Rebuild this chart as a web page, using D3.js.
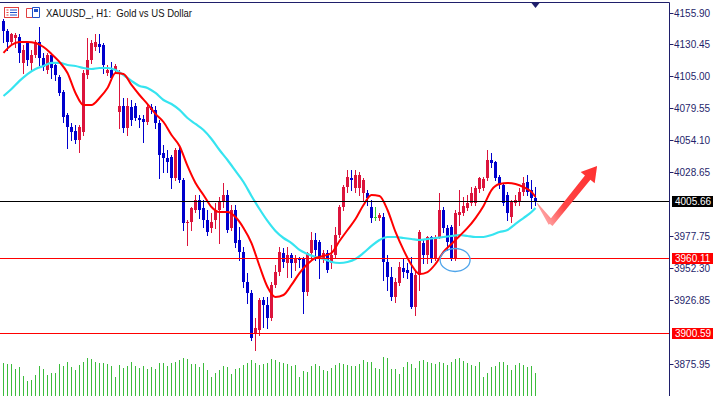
<!DOCTYPE html>
<html>
<head>
<meta charset="utf-8">
<script src="https://cdn.jsdelivr.net/npm/d3@7"></script>
<style>
html, body { margin: 0; padding: 0; background: #fff; overflow: hidden; }
svg { display: block; }
text { font-family: "Liberation Sans", Arial, sans-serif; }
</style>
</head>
<body>
<svg id="chart" width="722" height="396"></svg>
<script>
// XAUUSD H1 candles (one entry per hour)
var open = [4149.1, 4141.2, 4132.4, 4135.6, 4136.4, 4115.7, 4131.6, 4115.7, 4122.1, 4132.4,
    4119.7, 4110.1, 4122.1, 4114.1, 4104.5, 4092.6, 4074.3, 4064.7, 4061.5, 4054.4,
    4060.7, 4106.1, 4118.1, 4128.4, 4130.8, 4130.0, 4107.7, 4110.1, 4110.1, 4076.7,
    4081.4, 4063.9, 4080.6, 4081.4, 4071.9, 4071.1, 4068.7, 4080.6, 4078.3, 4067.9,
    4044.0, 4040.0, 4040.8, 4024.1, 4046.4, 4022.5, 3988.3, 3989.1, 3998.6, 4006.6,
    4000.2, 3990.7, 3984.3, 3990.7, 3998.6, 4005.0, 4010.6, 3984.3, 3998.6, 3974.7,
    3965.2, 3941.3, 3932.5, 3900.7, 3903.0, 3926.9, 3923.0, 3912.6, 3938.9, 3949.2,
    3964.4, 3956.4, 3962.8, 3956.4, 3960.4, 3960.4, 3933.3, 3964.4, 3974.7, 3973.1,
    3960.4, 3964.4, 3956.4, 3962.8, 3978.7, 4001.0, 4016.9, 4024.1, 4016.1, 4016.1,
    4012.2, 4012.2, 4001.0, 3993.0, 3992.2, 3993.0, 3957.2, 3945.3, 3929.3, 3940.5,
    3952.4, 3950.8, 3948.4, 3921.4, 3946.9, 3972.3, 3962.8, 3977.1, 3960.4, 3977.1,
    3998.6, 3984.3, 3985.1, 3960.4, 3994.6, 3996.2, 4000.2, 4004.2, 4004.2, 4015.3,
    4016.1, 4024.1, 4038.4, 4036.8, 4024.9, 4018.5, 4010.6, 3993.0, 4004.2, 4005.0,
    4013.0, 4020.9, 4014.5, 4008.2];
var high = [4150.7, 4142.8, 4139.6, 4139.6, 4138.8, 4130.0, 4132.4, 4126.0, 4134.0, 4144.4,
    4123.7, 4123.7, 4123.7, 4116.5, 4106.1, 4094.2, 4075.9, 4067.9, 4066.3, 4066.3,
    4110.1, 4135.6, 4134.0, 4138.8, 4138.8, 4131.6, 4114.1, 4116.5, 4114.9, 4110.1,
    4087.8, 4087.8, 4086.2, 4083.8, 4074.3, 4074.3, 4083.8, 4083.0, 4081.4, 4070.3,
    4050.4, 4046.4, 4042.4, 4048.0, 4048.8, 4024.1, 3990.7, 4001.0, 4010.6, 4010.6,
    4006.6, 3998.6, 3996.2, 4004.2, 4009.0, 4020.1, 4014.5, 4002.6, 4002.6, 3985.1,
    3969.1, 3948.4, 3934.9, 3912.6, 3928.5, 3929.3, 3929.3, 3941.3, 3954.8, 3969.1,
    3968.4, 3969.1, 3964.4, 3962.8, 3961.2, 3961.2, 3965.2, 3981.1, 3980.3, 3974.7,
    3966.8, 3966.8, 3970.7, 3985.1, 4002.6, 4018.5, 4030.5, 4030.5, 4030.5, 4028.9,
    4024.1, 4014.5, 4006.6, 4001.0, 3996.2, 3996.2, 3962.8, 3953.2, 3944.5, 3957.2,
    3960.4, 3956.4, 3961.2, 3950.8, 3982.7, 3974.7, 3978.0, 3977.9, 3978.7, 4012.2,
    4001.0, 3986.7, 3986.7, 3998.6, 4014.5, 4009.0, 4010.6, 4016.9, 4017.7, 4024.9,
    4024.9, 4046.4, 4044.0, 4037.5, 4026.5, 4020.1, 4013.0, 4006.6, 4010.6, 4016.1,
    4024.9, 4026.5, 4022.5, 4016.9];
var low = [4132.4, 4126.0, 4130.8, 4128.4, 4116.5, 4107.7, 4114.1, 4110.1, 4120.5, 4114.1,
    4110.1, 4107.7, 4103.7, 4102.2, 4090.2, 4068.7, 4048.0, 4054.4, 4052.0, 4044.8,
    4058.3, 4103.7, 4115.7, 4126.0, 4124.5, 4107.7, 4106.1, 4102.2, 4107.7, 4063.9,
    4060.7, 4058.3, 4066.3, 4070.3, 4064.7, 4052.8, 4067.1, 4075.9, 4063.9, 4024.1,
    4028.9, 4028.9, 4016.1, 4022.5, 4020.9, 3982.7, 3970.7, 3982.7, 3997.0, 3992.2,
    3985.1, 3978.7, 3981.1, 3984.3, 3972.3, 4001.0, 3981.1, 3982.7, 3969.1, 3958.8,
    3937.3, 3924.5, 3895.1, 3887.1, 3899.1, 3905.4, 3904.6, 3911.0, 3937.3, 3946.9,
    3953.2, 3945.3, 3945.3, 3950.8, 3953.2, 3916.6, 3930.9, 3958.8, 3958.8, 3944.5,
    3957.2, 3949.2, 3952.4, 3961.2, 3977.1, 3998.6, 4013.0, 4014.5, 4013.0, 4010.6,
    4006.6, 4002.6, 3989.1, 3990.7, 3990.7, 3942.9, 3934.9, 3926.9, 3925.3, 3938.9,
    3945.3, 3944.5, 3920.6, 3915.0, 3934.9, 3956.4, 3956.4, 3957.2, 3958.8, 3976.3,
    3981.1, 3966.8, 3958.8, 3958.8, 3986.7, 3994.6, 3998.6, 4002.6, 4002.6, 4013.0,
    4014.5, 4022.5, 4032.9, 4022.5, 4016.1, 4002.6, 3990.7, 3989.1, 4002.6, 4002.6,
    4010.6, 4010.6, 4000.2, 4002.6];
var close = [4141.2, 4132.4, 4138.8, 4138.0, 4123.7, 4126.0, 4118.1, 4122.1, 4132.4, 4119.7,
    4112.5, 4122.1, 4111.7, 4106.1, 4091.8, 4072.7, 4064.7, 4060.7, 4054.4, 4064.7,
    4107.7, 4118.1, 4131.6, 4132.4, 4128.4, 4114.1, 4110.1, 4103.7, 4113.3, 4081.4,
    4063.9, 4081.4, 4070.3, 4071.9, 4070.3, 4068.7, 4080.6, 4078.3, 4067.9, 4042.4,
    4040.0, 4036.8, 4024.1, 4046.4, 4022.5, 3988.3, 3989.1, 4000.2, 4006.6, 3998.6,
    3990.7, 3981.1, 3989.1, 3998.6, 4005.0, 4010.6, 3982.7, 3998.6, 3972.3, 3965.2,
    3941.3, 3932.5, 3896.7, 3904.6, 3926.9, 3923.0, 3912.6, 3938.9, 3949.2, 3965.2,
    3957.2, 3962.8, 3956.4, 3960.4, 3958.8, 3933.3, 3964.4, 3974.7, 3966.8, 3960.4,
    3964.4, 3950.8, 3962.8, 3978.7, 4001.0, 4016.9, 4024.9, 4022.5, 4026.5, 4026.5,
    4022.5, 4008.2, 3992.2, 3993.0, 3994.6, 3957.2, 3945.3, 3929.3, 3941.3, 3953.2,
    3949.2, 3948.4, 3921.4, 3946.9, 3981.1, 3962.8, 3977.1, 3960.4, 3977.1, 3998.6,
    3984.3, 3973.1, 3960.4, 3996.2, 3997.0, 4001.8, 4004.2, 4012.2, 4016.1, 4024.1,
    4023.3, 4038.4, 4036.0, 4024.1, 4018.5, 4004.2, 3996.2, 4005.0, 4006.6, 4013.0,
    4020.1, 4013.0, 4008.2, 4005.7];
// tick volumes (same bars)
var volume = [4950, 4800, 4800, 4050, 4350, 3000, 2250, 2400, 3150, 4500,
    4050, 3150, 3450, 3450, 4800, 4500, 5100, 4350, 3900, 4650,
    5100, 5700, 5550, 5100, 4950, 4950, 4800, 4500, 2850, 4650,
    4200, 4500, 5100, 4500, 4200, 4500, 4050, 4350, 4050, 4950,
    4950, 4500, 4950, 5100, 5400, 5700, 5550, 4800, 4800, 4350,
    4950, 3900, 2850, 3450, 3900, 4500, 4350, 3300, 4050, 4200,
    4650, 4950, 5400, 4950, 4650, 4800, 4950, 5550, 5400, 5100,
    4950, 4800, 4500, 4650, 2850, 3750, 3600, 4500, 4800, 4500,
    3900, 3750, 4200, 4650, 4950, 4800, 4650, 4500, 4500, 4800,
    5400, 5100, 5100, 4200, 4050, 5850, 5700, 4050, 4050, 3300,
    4350, 5100, 4800, 4200, 5250, 5400, 5100, 4950, 4800, 5100,
    4950, 4650, 5100, 5550, 5700, 5250, 4950, 4650, 4500, 5100,
    2850, 3450, 4350, 4500, 5100, 5100, 4650, 3900, 4650, 4950,
    4650, 4350, 4500, 3450];

// moving averages, read every second bar (last one at the final bar)
var maBar = [0, 2, 4, 6, 8, 10, 12, 14, 16, 18, 20, 22, 24, 26, 28, 30, 32, 34, 36, 38,
    40, 42, 44, 46, 48, 50, 52, 54, 56, 58, 60, 62, 64, 66, 68, 70, 72, 74, 76, 78,
    80, 82, 84, 86, 88, 90, 92, 94, 96, 98, 100, 102, 104, 106, 108, 110, 112, 114, 116, 118,
    120, 122, 124, 126, 128, 130, 132, 133];
var maFast = [4123.7, 4130.0, 4132.4, 4132.4, 4131.6, 4128.4, 4122.9, 4116.5, 4107.7, 4091.8,
    4082.2, 4082.2, 4087.8, 4095.8, 4107.7, 4106.9, 4098.2, 4090.2, 4083.0, 4075.1,
    4068.7, 4058.3, 4049.6, 4033.7, 4020.1, 4010.6, 4001.0, 3997.0, 3997.0, 3993.0,
    3984.3, 3972.3, 3954.0, 3937.3, 3929.3, 3930.9, 3938.9, 3948.4, 3955.6, 3960.4,
    3962.0, 3964.4, 3973.9, 3982.7, 3991.4, 4002.6, 4010.6, 4009.8, 3998.6, 3981.1,
    3966.8, 3954.8, 3947.6, 3949.2, 3955.6, 3965.2, 3971.5, 3977.9, 3984.3, 3992.2,
    4001.8, 4014.5, 4019.3, 4020.1, 4019.3, 4016.9, 4013.0, 4009.0];
var maSlow = [4089.4, 4095.0, 4101.4, 4106.9, 4110.9, 4113.3, 4115.7, 4115.7, 4114.1, 4113.3,
    4111.7, 4110.9, 4111.7, 4111.7, 4110.1, 4106.1, 4101.4, 4097.4, 4095.8, 4091.8,
    4086.2, 4083.0, 4078.3, 4071.9, 4067.1, 4062.3, 4055.2, 4046.4, 4038.4, 4029.7,
    4020.9, 4009.8, 3999.4, 3989.9, 3981.9, 3976.3, 3972.3, 3966.8, 3963.6, 3961.2,
    3959.6, 3957.2, 3956.4, 3957.2, 3959.6, 3964.4, 3970.0, 3974.7, 3977.1, 3977.1,
    3976.3, 3975.5, 3974.7, 3975.5, 3976.3, 3977.1, 3977.9, 3978.7, 3977.9, 3977.1,
    3977.1, 3978.7, 3981.1, 3982.7, 3987.5, 3992.2, 3997.0, 4000.2];

var priceTicks = [4155.90, 4130.45, 4105.00, 4079.55, 4054.10, 4028.65, 4003.20,
    3977.75, 3952.30, 3926.85, 3901.40, 3875.95];
// horizontal lines and their price tags
var levels = [
    {price: 4005.66, color: '#000000'},
    {price: 3960.11, color: '#ff0000'},
    {price: 3900.59, color: '#ff0000'}
];
// annotation: ellipse (bar, price) and zigzag arrow (bar, price)
var ellipseAt = [112.9, 3958.8];
var arrowPath = [[133.4, 4004.0], [136.9, 3988.3], [148.4, 4033.7]];
var title = 'XAUUSD_, H1:  Gold vs US Dollar';

var svg = d3.select('#chart');
var axisX = 669.5;
var navy = '#1f1f6b';

var x = d3.scaleLinear().domain([0, 133]).range([3.5, 535.5]);
var y = d3.scaleLinear().domain([3875.95, 4155.90]).range([364, 12.5]);
var yVol = d3.scaleLinear().domain([0, 5850]).range([396, 357]);

var crisp = function (v) {
    return Math.round(v) + 0.5;
};

var defs = svg.append('defs');
defs.append('clipPath').attr('id', 'plotClip')
    .append('rect').attr('x', 0).attr('y', 3).attr('width', axisX).attr('height', 393);

var plot = svg.append('g').attr('clip-path', 'url(#plotClip)');
var bars = d3.range(open.length);

// volumes
plot.append('g').selectAll('line')
    .data(bars)
    .enter()
    .append('line')
    .attr('x1', function (i) { return x(i); })
    .attr('x2', function (i) { return x(i); })
    .attr('y1', yVol(0))
    .attr('y2', function (i) { return Math.round(yVol(volume[i])); })
    .style('stroke', '#3cbc3c')
    .style('stroke-width', 1)
    .style('shape-rendering', 'crispEdges');

// candles
var colorOf = function (i) {
    if (close[i] > open[i]) return '#dc143c';
    if (close[i] < open[i]) return '#0000cd';
    return '#32cd32';
};
var candle = plot.append('g').selectAll('g')
    .data(bars)
    .enter()
    .append('g')
    .style('shape-rendering', 'crispEdges');
candle.append('line')
    .attr('x1', function (i) { return x(i); })
    .attr('x2', function (i) { return x(i); })
    .attr('y1', function (i) { return Math.round(y(high[i])); })
    .attr('y2', function (i) { return Math.round(y(low[i])) + 1; })
    .style('stroke', colorOf);
candle.append('rect')
    .attr('x', function (i) { return x(i) - 1.5; })
    .attr('width', 3)
    .attr('y', function (i) { return Math.round(y(Math.max(open[i], close[i]))); })
    .attr('height', function (i) {
        var top = Math.round(y(Math.max(open[i], close[i])));
        var bot = Math.round(y(Math.min(open[i], close[i])));
        return Math.max(1, bot - top);
    })
    .style('fill', colorOf);

// moving averages
var maLine = function (vals) {
    return d3.line()
        .x(function (d, j) { return x(maBar[j]); })
        .y(function (d) { return y(d); })
        .curve(d3.curveMonotoneX)(vals);
};
plot.append('path').attr('d', maLine(maSlow))
    .style('fill', 'none').style('stroke', '#36e4f0').style('stroke-width', 2.2);
plot.append('path').attr('d', maLine(maFast))
    .style('fill', 'none').style('stroke', '#ff0000').style('stroke-width', 2);

// horizontal levels
plot.append('g').selectAll('line')
    .data(levels)
    .enter()
    .append('line')
    .attr('x1', 0)
    .attr('x2', axisX)
    .attr('y1', function (d) { return crisp(y(d.price)); })
    .attr('y2', function (d) { return crisp(y(d.price)); })
    .style('stroke', function (d) { return d.color; })
    .style('stroke-width', 1);

// ellipse mark
plot.append('ellipse')
    .attr('cx', x(ellipseAt[0]))
    .attr('cy', y(ellipseAt[1]))
    .attr('rx', 15)
    .attr('ry', 11.5)
    .style('fill', 'none')
    .style('stroke', '#4ea4ea')
    .style('stroke-width', 1.3);

// zigzag arrow
var pA = [x(arrowPath[0][0]), y(arrowPath[0][1])];
var pB = [x(arrowPath[1][0]), y(arrowPath[1][1])];
var pT = [x(arrowPath[2][0]), y(arrowPath[2][1])];
var unit = function (a, b) {
    var dx = b[0] - a[0], dy = b[1] - a[1], m = Math.sqrt(dx * dx + dy * dy);
    return [dx / m, dy / m];
};
var off = function (p, v, s) {
    return [p[0] + v[0] * s, p[1] + v[1] * s];
};
var u1 = unit(pA, pB), n1 = [-u1[1], u1[0]];
var u2 = unit(pB, pT), n2 = [-u2[1], u2[0]];
var pH = off(pT, u2, -15);
var grad = defs.append('linearGradient').attr('id', 'arrowGrad')
    .attr('gradientUnits', 'userSpaceOnUse')
    .attr('x1', pA[0]).attr('y1', pA[1]).attr('x2', pT[0]).attr('y2', pT[1]);
grad.append('stop').attr('offset', 0).attr('stop-color', '#ff9a9a');
grad.append('stop').attr('offset', 0.3).attr('stop-color', '#ff4444');
grad.append('stop').attr('offset', 1).attr('stop-color', '#ff3030');
var seg1 = [off(pA, n1, 0.4), off(pB, n1, 3), off(pB, n1, -3), off(pA, n1, -0.4)];
var seg2 = [off(off(pB, n2, 3), u2, -1.5), off(pH, n2, 3.5), off(pH, n2, 9), pT,
    off(pH, n2, -9), off(pH, n2, -3.5), off(off(pB, n2, -3), u2, -1.5)];
plot.append('path')
    .attr('d', 'M' + seg1.join('L') + 'Z' + 'M' + seg2.join('L') + 'Z')
    .style('fill', 'url(#arrowGrad)');

// frame and price axis
svg.append('line').attr('x1', 0).attr('x2', axisX).attr('y1', 2.5).attr('y2', 2.5)
    .style('stroke', navy);
svg.append('line').attr('x1', axisX).attr('x2', axisX).attr('y1', 2.5).attr('y2', 396)
    .style('stroke', navy);
svg.append('path')
    .attr('d', 'M' + (x(133) - 4) + ',3L' + (x(133) + 4) + ',3L' + x(133) + ',8Z')
    .style('fill', navy);

// grid labels hidden behind a level tag are not drawn (as in the terminal)
var shownTicks = priceTicks.filter(function (t) {
    return levels.every(function (l) { return Math.abs(y(t) - y(l.price)) > 7; });
});
var tick = svg.append('g').selectAll('g')
    .data(shownTicks)
    .enter()
    .append('g')
    .attr('transform', function (d) { return 'translate(0,' + crisp(y(d)) + ')'; });
tick.append('line').attr('x1', axisX).attr('x2', axisX + 4).attr('y1', 0).attr('y2', 0)
    .style('stroke', navy);
tick.append('text')
    .attr('x', 674)
    .attr('y', 3.5)
    .style('font-size', '10px')
    .style('fill', navy)
    .text(function (d) { return d.toFixed(2); });

var tag = svg.append('g').selectAll('g')
    .data(levels)
    .enter()
    .append('g')
    .attr('transform', function (d) { return 'translate(0,' + Math.round(y(d.price)) + ')'; });
tag.append('rect').attr('x', 672).attr('y', -5).attr('width', 41).attr('height', 11)
    .style('fill', function (d) { return d.color; });
tag.append('text')
    .attr('x', 675)
    .attr('y', 4)
    .style('font-size', '10px')
    .style('fill', '#fff')
    .text(function (d) { return d.price.toFixed(2); });

// header icons and title
var icons = svg.append('g');
icons.append('rect').attr('x', 4.5).attr('y', 7.5).attr('width', 14).attr('height', 10)
    .style('fill', '#fff').style('stroke', '#e04040');
[10, 12.5, 15].forEach(function (yy) {
    icons.append('line').attr('x1', 10).attr('x2', 17).attr('y1', yy).attr('y2', yy)
        .style('stroke', '#2050c8');
    icons.append('line').attr('x1', 6.5).attr('x2', 8.5).attr('y1', yy).attr('y2', yy)
        .style('stroke', '#e04040');
});
icons.append('path').attr('d', 'M26.5,17.5V8.5H32.5V17.5Z')
    .style('fill', '#fff').style('stroke', '#e04040');
icons.append('path').attr('d', 'M32.5,17.5V7.5H39.5V17.5Z')
    .style('fill', '#fff').style('stroke', '#2050c8');
icons.append('rect').attr('x', 34).attr('y', 9).attr('width', 4).attr('height', 3)
    .style('fill', '#2050c8');

svg.append('text')
    .attr('x', 46)
    .attr('y', 17)
    .attr('textLength', 146)
    .attr('lengthAdjust', 'spacingAndGlyphs')
    .style('font-size', '10.5px')
    .style('fill', '#111')
    .style('white-space', 'pre')
    .text(title);
</script>
</body>
</html>
